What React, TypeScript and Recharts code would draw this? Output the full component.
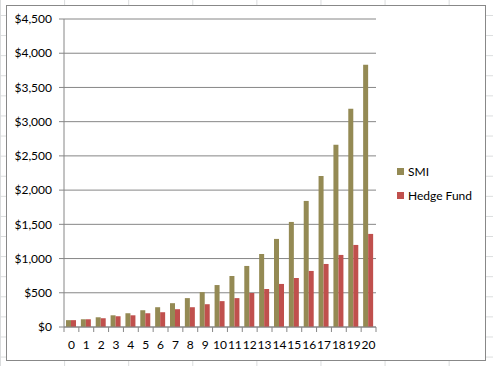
import React from 'react';
import { BarChart, Bar, XAxis, YAxis, CartesianGrid, Legend } from 'recharts';

const years = ['0', '1', '2', '3', '4', '5', '6', '7', '8', '9', '10', '11', '12', '13', '14', '15', '16', '17', '18', '19', '20'];
const smi = [100, 113, 142, 171, 201, 245, 289, 348, 422, 510, 613, 745, 892, 1067, 1287, 1535, 1842, 2207, 2661, 3187, 3830];
const hedgeFund = [100, 113, 128, 157, 171, 201, 216, 260, 289, 333, 378, 422, 497, 555, 629, 716, 819, 921, 1053, 1199, 1360];
const seriesNames = ['SMI', 'Hedge Fund'];
const yTicks = [0, 500, 1000, 1500, 2000, 2500, 3000, 3500, 4000, 4500];

const data = years.map((y, i) => ({ year: y, SMI: smi[i], 'Hedge Fund': hedgeFund[i] }));

const W = 480;
const H = 356;
const M = { top: 14, right: 110, left: 0, bottom: 10 };
const Y_W = 58;
const band = (W - M.left - M.right - Y_W) / years.length;
const GRID = '#868686';
const FONT = 'Lato, "Liberation Sans", sans-serif';

const money = (v: number) => '$' + v.toLocaleString('en-US');

// excel puts the x tick marks between categories, not under them
function XTick(props: any) {
  const { x, y, payload, index } = props;
  const axisY = y - 13;
  return (
    <g>
      <line x1={x - band / 2} x2={x - band / 2} y1={axisY} y2={axisY + 5} stroke={GRID} />
      {index === years.length - 1 && (
        <line x1={x + band / 2} x2={x + band / 2} y1={axisY} y2={axisY + 5} stroke={GRID} />
      )}
      <text x={x} y={y} dy="0.71em" textAnchor="middle" fill="#000" fontSize={12}>
        {payload.value}
      </text>
    </g>
  );
}

function LegendBox(props: any) {
  const items = [...(props.payload || [])].sort(
    (a: any, b: any) => seriesNames.indexOf(a.value) - seriesNames.indexOf(b.value)
  );
  return (
    <div style={{ fontFamily: FONT, fontSize: 12, color: '#000' }}>
      {items.map((p: any) => (
        <div key={p.value} style={{ height: 24, display: 'flex', alignItems: 'center' }}>
          <span style={{ width: 7, height: 7, background: p.color, marginRight: 4, display: 'inline-block' }} />
          <span>{p.value}</span>
        </div>
      ))}
    </div>
  );
}

export default function App() {
  return (
    <div
      style={{
        position: 'absolute',
        left: 0,
        top: 0,
        width: 493,
        height: 366,
        overflow: 'hidden',
        background: '#fff',
        backgroundImage:
          'linear-gradient(to right, #dadcdd 1px, transparent 1px), linear-gradient(to bottom, #dadcdd 1px, transparent 1px)',
        backgroundSize: '64.1px 20.1px',
        backgroundPosition: '0px 15px',
        fontFamily: FONT,
      }}
    >
      <div
        style={{
          position: 'absolute',
          left: 6,
          top: 5,
          width: W,
          height: H,
          boxSizing: 'border-box',
          border: '1px solid #888',
          background: '#fff',
        }}
      />
      <div style={{ position: 'absolute', left: 6, top: 5 }}>
        <BarChart width={W} height={H} data={data} margin={M} barGap={0} barSize={5}>
          <CartesianGrid horizontal vertical={false} stroke={GRID} />
          <XAxis
            dataKey="year"
            height={24}
            interval={0}
            tickSize={5}
            tickMargin={8}
            tickLine={{ stroke: 'none' }}
            axisLine={{ stroke: GRID }}
            tick={<XTick />}
          />
          <YAxis
            width={Y_W}
            domain={[0, 4500]}
            ticks={yTicks}
            interval={0}
            tickFormatter={money}
            tickSize={5}
            tickMargin={7}
            tickLine={{ stroke: GRID }}
            axisLine={{ stroke: GRID }}
            tick={{ fill: '#000', fontSize: 12 }}
          />
          <Legend
            layout="vertical"
            align="center"
            verticalAlign="middle"
            content={<LegendBox />}
            wrapperStyle={{ position: 'absolute', left: 391, top: 154, width: 90 }}
          />
          <Bar dataKey="SMI" fill="#948a54" isAnimationActive={false} />
          <Bar dataKey="Hedge Fund" fill="#c0504d" isAnimationActive={false} />
        </BarChart>
      </div>
    </div>
  );
}
